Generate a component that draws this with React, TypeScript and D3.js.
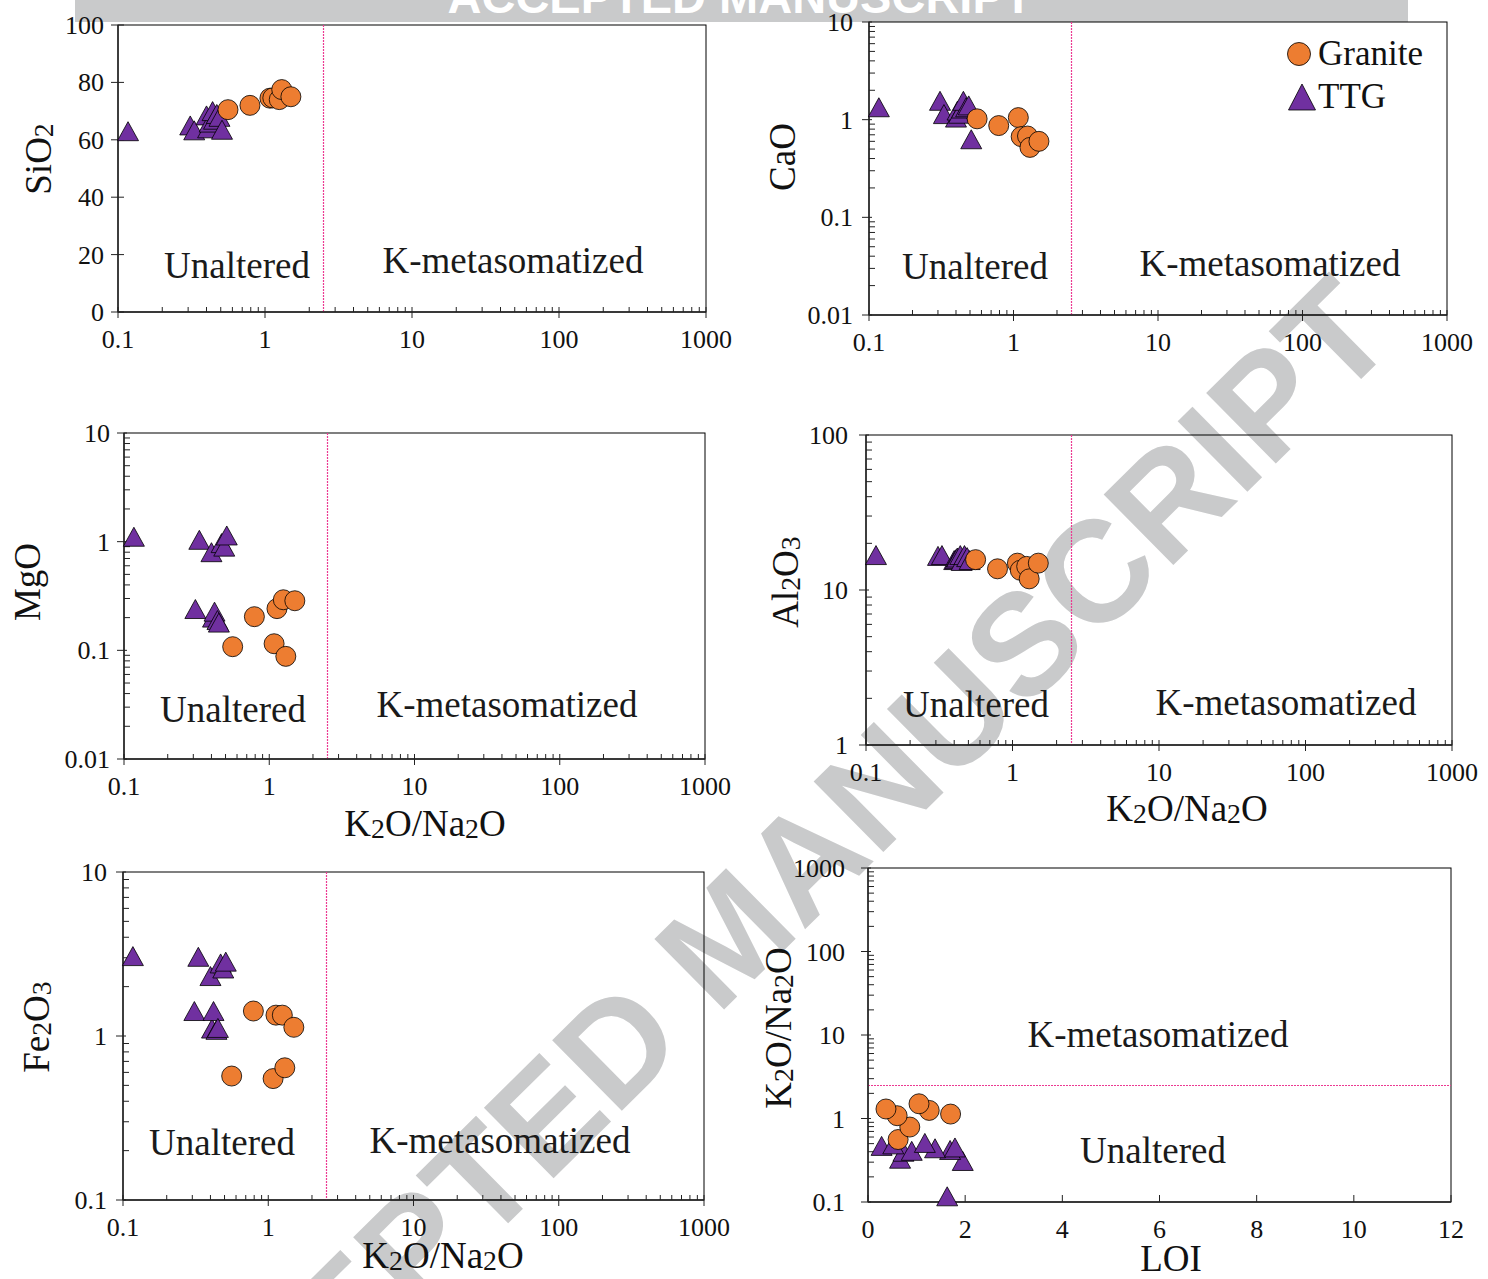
import React from "react";
import * as d3 from "d3";

// K2O/Na2O ratios and oxide contents (wt.%) of the granite and TTG samples
const graniteK2ONa2O = [0.56, 0.79, 1.08, 1.13, 1.25, 1.3, 1.5];
const graniteSiO2 = [70.5, 72.0, 74.5, 74.6, 74.0, 77.5, 75.0];
const graniteCaO = [1.02, 0.87, 1.05, 0.67, 0.68, 0.52, 0.6];
const graniteMgO = [0.108, 0.204, 0.115, 0.242, 0.292, 0.088, 0.286];
const graniteAl2O3 = [15.7, 13.7, 14.9, 13.4, 14.2, 11.8, 14.9];
const graniteFe2O3 = [0.57, 1.42, 0.55, 1.34, 1.34, 0.64, 1.13];
const graniteLOI = [0.62, 0.86, 0.6, 1.7, 1.26, 0.37, 1.05];

const ttgK2ONa2O = [0.117, 0.31, 0.33, 0.4, 0.41, 0.42, 0.44, 0.45, 0.47, 0.49, 0.51];
const ttgSiO2 = [63.0, 65.0, 63.3, 68.5, 64.0, 66.0, 70.0, 67.0, 69.0, 68.0, 63.5];
const ttgCaO = [1.34, 1.56, 1.14, 1.05, 1.24, 1.15, 1.3, 1.56, 1.34, 1.4, 0.63];
const ttgMgO = [1.11, 0.24, 1.04, 0.8, 0.2, 0.227, 0.19, 0.18, 0.97, 0.9, 1.14];
const ttgAl2O3 = [16.8, 16.6, 16.8, 15.6, 15.8, 16.2, 16.8, 15.4, 16.8, 16.3, 15.6];
const ttgFe2O3 = [3.07, 1.42, 3.04, 2.32, 1.11, 1.42, 1.09, 1.12, 2.77, 2.58, 2.84];
const ttgLOI = [1.63, 1.95, 0.66, 0.73, 0.9, 1.69, 1.38, 1.79, 0.28, 0.52, 1.17];

// Boundary between unaltered and K-metasomatized rocks (K2O/Na2O)
const ratioBoundary = 2.5;
const sio2Ticks = [0, 20, 40, 60, 80, 100];
const loiTicks = [0, 2, 4, 6, 8, 10, 12];
const seriesNames = ["Granite", "TTG"];
const regionNames = ["Unaltered", "K-metasomatized"];
const ratioTitle = "K2O/Na2O";
const watermarkText = "ACCEPTED MANUSCRIPT";

const SERIF = "'Liberation Serif', 'Times New Roman', serif";
const SANS = "'Liberation Sans', Arial, sans-serif";
const GRANITE_FILL = "#ED7D31";
const TTG_FILL = "#7030A0";
const DIVIDER = "#ec3a92";
const AXIS = "#222";
const WATERMARK = "#c9cacb";

type Kind = "log" | "linear";
type Series = { x: number[]; y: number[] };
type Spec = {
  id: string;
  box: [number, number, number, number];
  xKind: Kind;
  xDomain: [number, number];
  xTicks?: number[];
  yKind: Kind;
  yDomain: [number, number];
  yTicks?: number[];
  yTitle: string;
  yTitlePos: [number, number];
  xTitle?: string;
  xTitlePos?: [number, number];
  labelGap: number;
  regions: { text: string; x: number; y: number }[];
  divider: "x" | "y";
  granite: Series;
  ttg: Series;
  legend?: boolean;
};

const specs: Spec[] = [
  {
    id: "sio2",
    box: [118, 25, 706, 312],
    xKind: "log",
    xDomain: [0.1, 1000],
    yKind: "linear",
    yDomain: [0, 100],
    yTicks: sio2Ticks,
    yTitle: "SiO2",
    yTitlePos: [51, 159],
    labelGap: 14,
    regions: [
      { text: regionNames[0], x: 237, y: 278 },
      { text: regionNames[1], x: 513, y: 273 },
    ],
    divider: "x",
    granite: { x: graniteK2ONa2O, y: graniteSiO2 },
    ttg: { x: ttgK2ONa2O, y: ttgSiO2 },
  },
  {
    id: "cao",
    box: [869, 22, 1447, 315],
    xKind: "log",
    xDomain: [0.1, 1000],
    yKind: "log",
    yDomain: [0.01, 10],
    yTitle: "CaO",
    yTitlePos: [795, 157],
    labelGap: 16,
    regions: [
      { text: regionNames[0], x: 975, y: 279 },
      { text: regionNames[1], x: 1270, y: 276 },
    ],
    divider: "x",
    granite: { x: graniteK2ONa2O, y: graniteCaO },
    ttg: { x: ttgK2ONa2O, y: ttgCaO },
    legend: true,
  },
  {
    id: "mgo",
    box: [124, 433, 705, 759],
    xKind: "log",
    xDomain: [0.1, 1000],
    yKind: "log",
    yDomain: [0.01, 10],
    yTitle: "MgO",
    yTitlePos: [40, 582],
    xTitle: ratioTitle,
    xTitlePos: [425, 836],
    labelGap: 14,
    regions: [
      { text: regionNames[0], x: 233, y: 722 },
      { text: regionNames[1], x: 507, y: 717 },
    ],
    divider: "x",
    granite: { x: graniteK2ONa2O, y: graniteMgO },
    ttg: { x: ttgK2ONa2O, y: ttgMgO },
  },
  {
    id: "al2o3",
    box: [866, 435, 1452, 745],
    xKind: "log",
    xDomain: [0.1, 1000],
    yKind: "log",
    yDomain: [1, 100],
    yTitle: "Al2O3",
    yTitlePos: [798, 582],
    xTitle: ratioTitle,
    xTitlePos: [1187, 821],
    labelGap: 18,
    regions: [
      { text: regionNames[0], x: 976, y: 717 },
      { text: regionNames[1], x: 1286, y: 715 },
    ],
    divider: "x",
    granite: { x: graniteK2ONa2O, y: graniteAl2O3 },
    ttg: { x: ttgK2ONa2O, y: ttgAl2O3 },
  },
  {
    id: "fe2o3",
    box: [123, 872, 704, 1200],
    xKind: "log",
    xDomain: [0.1, 1000],
    yKind: "log",
    yDomain: [0.1, 10],
    yTitle: "Fe2O3",
    yTitlePos: [49, 1027],
    xTitle: ratioTitle,
    xTitlePos: [443, 1268],
    labelGap: 16,
    regions: [
      { text: regionNames[0], x: 222, y: 1155 },
      { text: regionNames[1], x: 500, y: 1153 },
    ],
    divider: "x",
    granite: { x: graniteK2ONa2O, y: graniteFe2O3 },
    ttg: { x: ttgK2ONa2O, y: ttgFe2O3 },
  },
  {
    id: "loi",
    box: [868, 868, 1451, 1202],
    xKind: "linear",
    xDomain: [0, 12],
    xTicks: loiTicks,
    yKind: "log",
    yDomain: [0.1, 1000],
    yTitle: ratioTitle,
    yTitlePos: [791, 1028],
    xTitle: "LOI",
    xTitlePos: [1171, 1271],
    labelGap: 23,
    regions: [
      { text: regionNames[1], x: 1158, y: 1047 },
      { text: regionNames[0], x: 1153, y: 1163 },
    ],
    divider: "y",
    granite: { x: graniteLOI, y: graniteK2ONa2O },
    ttg: { x: ttgLOI, y: ttgK2ONa2O },
  },
];

// Chemical formula with digits set as subscripts
function Formula({ text, size }: { text: string; size: number }) {
  const parts = text.match(/\d+|\D+/g) || [];
  let shifted = false;
  return (
    <>
      {parts.map((p, i) => {
        const isSub = /^\d+$/.test(p);
        let dy = 0;
        if (isSub && !shifted) {
          dy = 2;
          shifted = true;
        } else if (!isSub && shifted) {
          dy = -2;
          shifted = false;
        }
        return (
          <tspan key={i} dy={dy} fontSize={isSub ? size * 0.75 : size}>
            {p}
          </tspan>
        );
      })}
    </>
  );
}

const trianglePath = (w: number, h: number) =>
  `M0,${-h / 2}L${w / 2},${h / 2}L${-w / 2},${h / 2}Z`;

function makeScale(kind: Kind, domain: [number, number], range: [number, number]) {
  return kind === "log"
    ? d3.scaleLog().domain(domain).range(range)
    : d3.scaleLinear().domain(domain).range(range);
}

const isDecade = (v: number) => Math.abs(Math.log10(v) - Math.round(Math.log10(v))) < 1e-9;
const fmt = (v: number) => String(+v.toPrecision(6));
const crisp = (v: number) => Math.round(v) + 0.5;

function Panel({ spec }: { spec: Spec }) {
  const [L, T, R, B] = spec.box;
  const x = makeScale(spec.xKind, spec.xDomain, [L, R]);
  const y = makeScale(spec.yKind, spec.yDomain, [B, T]);

  const xAll = spec.xKind === "log" ? (x as d3.ScaleLogarithmic<number, number>).ticks() : spec.xTicks!;
  const xMajor = spec.xKind === "log" ? xAll.filter(isDecade) : xAll;
  const xMinor = spec.xKind === "log" ? xAll.filter((v) => !isDecade(v)) : [];
  const yAll = spec.yKind === "log" ? (y as d3.ScaleLogarithmic<number, number>).ticks() : spec.yTicks!;
  const yMajor = spec.yKind === "log" ? yAll.filter(isDecade) : yAll;
  const yMinor = spec.yKind === "log" ? yAll.filter((v) => !isDecade(v)) : [];

  const tickFont = 26;
  const regionFont = 37;
  const titleFont = 37;

  return (
    <g>
      {/* frame */}
      <rect x={L} y={T} width={R - L} height={B - T} fill="none" stroke="#000" strokeWidth={1} />

      {/* boundary between fields */}
      {spec.divider === "x" ? (
        <line
          x1={crisp(x(ratioBoundary))}
          x2={crisp(x(ratioBoundary))}
          y1={T}
          y2={B}
          stroke={DIVIDER}
          strokeWidth={1.2}
          strokeDasharray="2 1"
        />
      ) : (
        <line
          x1={L}
          x2={R}
          y1={crisp(y(ratioBoundary))}
          y2={crisp(y(ratioBoundary))}
          stroke={DIVIDER}
          strokeWidth={1.2}
          strokeDasharray="2 1"
        />
      )}

      {/* axes */}
      <line x1={L} x2={R} y1={B} y2={B} stroke={AXIS} strokeWidth={1.6} />
      <line x1={L} x2={L} y1={T} y2={B} stroke={AXIS} strokeWidth={1.4} />

      {xMajor.map((v) => (
        <g key={"xM" + v}>
          <line
            x1={x(v)}
            x2={x(v)}
            y1={spec.xKind === "log" ? B - 5 : B - 7}
            y2={spec.xKind === "log" ? B + 6 : B}
            stroke={AXIS}
            strokeWidth={1}
          />
          <text x={x(v)} y={B + 36} textAnchor="middle" fontFamily={SERIF} fontSize={tickFont} fill="#111">
            {fmt(v)}
          </text>
        </g>
      ))}
      {xMinor.map((v) => (
        <line key={"xm" + v} x1={x(v)} x2={x(v)} y1={B - 5} y2={B} stroke={AXIS} strokeWidth={1} />
      ))}
      {yMajor.map((v) => (
        <g key={"yM" + v}>
          <line x1={L - 7} x2={spec.yKind === "log" ? L + 3 : L + 6} y1={y(v)} y2={y(v)} stroke={AXIS} strokeWidth={1} />
          <text x={L - spec.labelGap} y={y(v) + 9} textAnchor="end" fontFamily={SERIF} fontSize={tickFont} fill="#111">
            {fmt(v)}
          </text>
        </g>
      ))}
      {yMinor.map((v) => (
        <line key={"ym" + v} x1={L} x2={L + 6} y1={y(v)} y2={y(v)} stroke={AXIS} strokeWidth={1} />
      ))}

      {/* axis titles */}
      <text
        transform={`translate(${spec.yTitlePos[0]},${spec.yTitlePos[1]}) rotate(-90)`}
        textAnchor="middle"
        fontFamily={SERIF}
        fontSize={titleFont}
        fill="#111"
      >
        <Formula text={spec.yTitle} size={titleFont} />
      </text>
      {spec.xTitle && spec.xTitlePos && (
        <text x={spec.xTitlePos[0]} y={spec.xTitlePos[1]} textAnchor="middle" fontFamily={SERIF} fontSize={titleFont} fill="#111">
          <Formula text={spec.xTitle} size={titleFont} />
        </text>
      )}

      {/* field names */}
      {spec.regions.map((r) => (
        <text key={r.text} x={r.x} y={r.y} textAnchor="middle" fontFamily={SERIF} fontSize={regionFont} fill="#1a1a1a">
          {r.text}
        </text>
      ))}

      {/* samples */}
      {spec.ttg.x.map((v, i) => (
        <path
          key={"t" + i}
          d={trianglePath(21, 19)}
          transform={`translate(${x(v)},${y(spec.ttg.y[i])})`}
          fill={TTG_FILL}
          stroke="#000"
          strokeWidth={0.8}
        />
      ))}
      {spec.granite.x.map((v, i) => (
        <circle key={"g" + i} cx={x(v)} cy={y(spec.granite.y[i])} r={10} fill={GRANITE_FILL} stroke="#000" strokeWidth={0.8} />
      ))}

      {spec.legend && (
        <g fontFamily={SERIF} fontSize={35} fill="#111">
          <circle cx={R - 148} cy={T + 32} r={11.5} fill={GRANITE_FILL} stroke="#000" strokeWidth={0.8} />
          <text x={R - 129} y={T + 43}>
            {seriesNames[0]}
          </text>
          <path d={trianglePath(27, 26)} transform={`translate(${R - 145},${T + 75})`} fill={TTG_FILL} stroke="#000" strokeWidth={0.8} />
          <text x={R - 129} y={T + 86}>
            {seriesNames[1]}
          </text>
        </g>
      )}
    </g>
  );
}

export default function App() {
  const W = 1488;
  const H = 1279;
  return (
    <svg width={W} height={H} viewBox={`0 0 ${W} ${H}`} style={{ position: "absolute", left: 0, top: 0, background: "#fff" }}>
      <rect x={0} y={0} width={W} height={H} fill="#fff" />
      {/* manuscript banner and watermark */}
      <rect x={75} y={0} width={1333} height={22} fill={WATERMARK} />
      <text x={740} y={13} textAnchor="middle" fontFamily={SANS} fontWeight="bold" fontSize={47} fill="#fff">
        {watermarkText}
      </text>
      <text
        transform="translate(728,936) rotate(-44.7)"
        textAnchor="middle"
        dominantBaseline="central"
        fontFamily={SANS}
        fontWeight="bold"
        fontSize={144}
        fill={WATERMARK}
      >
        {watermarkText}
      </text>
      {specs.map((s) => (
        <Panel key={s.id} spec={s} />
      ))}
    </svg>
  );
}
